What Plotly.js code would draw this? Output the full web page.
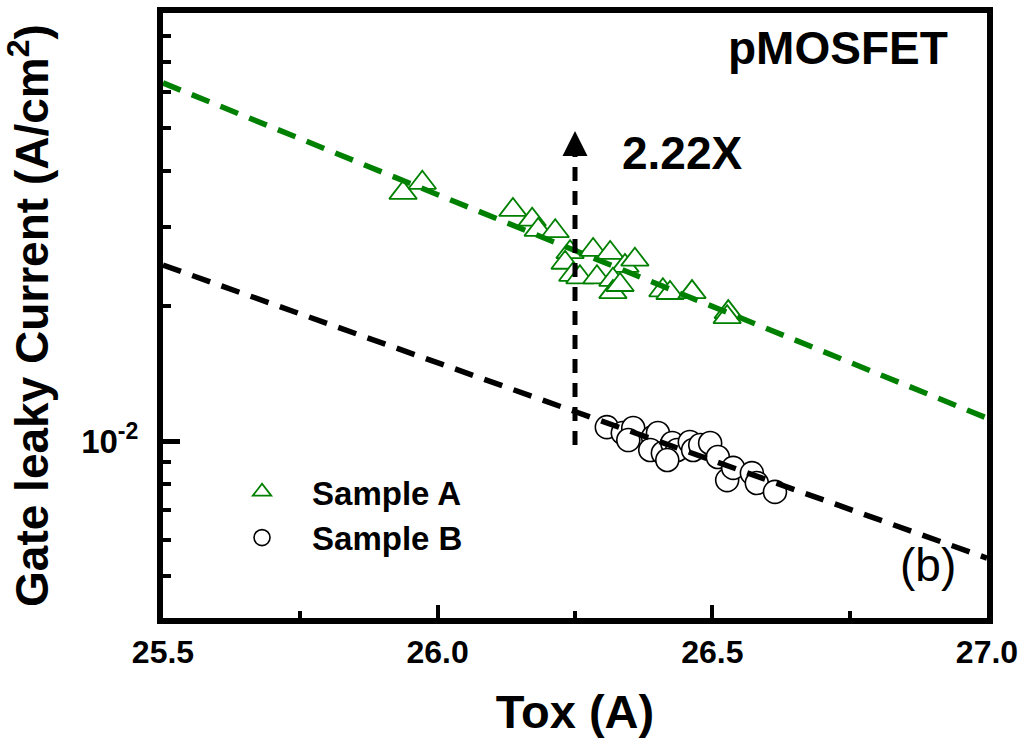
<!DOCTYPE html>
<html>
<head>
<meta charset="utf-8">
<script src="https://cdn.plot.ly/plotly-3.0.1.min.js"></script>
<style>html,body{margin:0;padding:0;background:#fff;}#chart{width:1025px;height:747px;}</style>
</head>
<body>
<div id="chart"></div>
<script>
// Sample A (triangles)
const toxA = [25.937, 25.972, 26.137, 26.172, 26.183, 26.214, 26.241, 26.232, 26.246, 26.283, 26.314, 26.341, 26.359, 26.259, 26.290, 26.319, 26.319, 26.332, 26.410, 26.423, 26.463, 26.529, 26.527];
const jA   = [0.0358, 0.0377, 0.0328, 0.0312, 0.0296, 0.0294, 0.0264, 0.0250, 0.0235, 0.0267, 0.0263, 0.0246, 0.0254, 0.0232, 0.0232, 0.0229, 0.0215, 0.0223, 0.0217, 0.0214, 0.0215, 0.0194, 0.0189];
// Sample B (circles)
const toxB = [26.308, 26.337, 26.356, 26.347, 26.392, 26.401, 26.387, 26.410, 26.427, 26.436, 26.459, 26.465, 26.478, 26.496, 26.510, 26.527, 26.538, 26.572, 26.581, 26.614, 26.418];
const jB   = [0.01074, 0.01042, 0.01069, 0.01005, 0.01021, 0.01042, 0.00955, 0.00940, 0.00990, 0.00955, 0.00995, 0.00955, 0.00980, 0.00990, 0.00921, 0.00818, 0.00871, 0.00848, 0.00806, 0.00770, 0.00907];
// Fit lines
const fitX = [25.5, 27.0];
const fitA = [0.0630, 0.01125];
const fitB = [0.0247, 0.00548];
// Ratio arrow
const arrowX = [26.25, 26.25];
const arrowY = [0.0098, 0.0455];
const arrowTip = 0.0492;
// Axis ticks
const xTicks = [25.5, 26.0, 26.5, 27.0];
const xMinor = [25.75, 26.25, 26.75];
const yMajor = [0.01];
const yMajorText = ['10<sup>-2</sup>'];
const yMinor = [0.005, 0.006, 0.007, 0.008, 0.009, 0.02, 0.03, 0.04, 0.05, 0.06, 0.07, 0.08];

const FONT = 'Liberation Sans, Arial, Helvetica, sans-serif';
const GREEN = '#008000';

const traces = [
  {x: toxA, y: jA, type: 'scatter', mode: 'markers', name: 'Sample A',
   marker: {symbol: 'triangle-up', size: 24, color: 'rgba(255,255,255,1)', line: {color: GREEN, width: 1.8}}},
  {x: toxB, y: jB, type: 'scatter', mode: 'markers', name: 'Sample B',
   marker: {symbol: 'circle', size: 23, color: 'rgba(255,255,255,1)', line: {color: '#000', width: 1.6}}},
  {x: fitX, y: fitA, type: 'scatter', mode: 'lines', showlegend: false,
   line: {color: GREEN, width: 5.5, dash: '19px,12px'}},
  {x: fitX, y: fitB, type: 'scatter', mode: 'lines', showlegend: false,
   line: {color: '#000', width: 5.5, dash: '19px,12px'}},
  {x: arrowX, y: arrowY, type: 'scatter', mode: 'lines', showlegend: false,
   line: {color: '#000', width: 5, dash: '14px,10px'}}
];

const layout = {
  width: 1025, height: 747,
  margin: {l: 163, r: 38, t: 13, b: 129},
  paper_bgcolor: '#fff', plot_bgcolor: '#fff',
  font: {family: FONT, color: '#000'},
  showlegend: true,
  legend: {x: 0.0595, y: 0.255, xanchor: 'left', yanchor: 'top', bgcolor: 'rgba(0,0,0,0)',
           font: {family: FONT, size: 33, weight: 'bold', color: '#000'}, itemwidth: 90},
  xaxis: {
    range: [25.5, 27.0], tickmode: 'array', tickvals: xTicks, ticktext: xTicks.map(v => v.toFixed(1)),
    ticks: 'inside', ticklen: 13, tickwidth: 4, tickcolor: '#000',
    minor: {tickvals: xMinor, ticks: 'inside', ticklen: 7, tickwidth: 4, tickcolor: '#000'},
    showline: true, linewidth: 6, linecolor: '#000', mirror: true, showgrid: false, zeroline: false,
    tickfont: {family: FONT, size: 32, weight: 'bold'}, ticklabelstandoff: 1,
    title: {text: 'Tox (A)', font: {family: FONT, size: 47, weight: 'bold'}, standoff: 28}
  },
  yaxis: {
    type: 'log', range: [-2.395, -1.0446], tickmode: 'array', tickvals: yMajor, ticktext: yMajorText,
    ticks: 'inside', ticklen: 17, tickwidth: 5, tickcolor: '#000',
    minor: {tickvals: yMinor, ticks: 'inside', ticklen: 8, tickwidth: 4, tickcolor: '#000'},
    showline: true, linewidth: 6, linecolor: '#000', mirror: true, showgrid: false, zeroline: false,
    tickfont: {family: FONT, size: 33, weight: 'bold'}, ticklabelstandoff: 12,
    title: {text: 'Gate leaky Current (A/cm<sup>2</sup>)', font: {family: FONT, size: 46, weight: 'bold'}, standoff: 26}
  },
  annotations: [
    {xref: 'paper', yref: 'paper', x: 0.819, y: 0.942, xanchor: 'center', yanchor: 'middle',
     text: 'pMOSFET', showarrow: false, font: {family: FONT, size: 46, weight: 'bold', color: '#000'}},
    {xref: 'paper', yref: 'paper', x: 0.631, y: 0.769, xanchor: 'center', yanchor: 'middle',
     text: '2.22X', showarrow: false, font: {family: FONT, size: 46, weight: 'bold', color: '#000'}},
    {xref: 'paper', yref: 'paper', x: 0.928, y: 0.088, xanchor: 'center', yanchor: 'middle',
     text: '(b)', showarrow: false, font: {family: FONT, size: 46, color: '#000'}},
    {xref: 'x', yref: 'y', x: arrowX[1], y: Math.log10(arrowTip), ax: 0, ay: 26, text: '', showarrow: true,
     arrowhead: 2, arrowsize: 1, arrowwidth: 5, arrowcolor: '#000'}
  ]
};

Plotly.newPlot('chart', traces, layout, {displayModeBar: false, staticPlot: true});
</script>
</body>
</html>
